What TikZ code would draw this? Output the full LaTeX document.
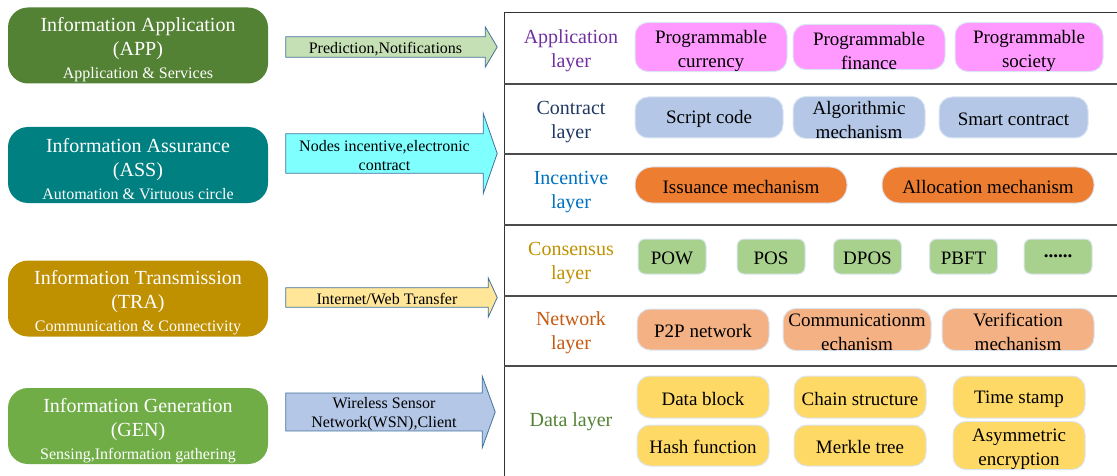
\documentclass[tikz,border=0pt]{standalone}
\usepackage{fontspec}
\setmainfont{Liberation Serif}
\usepackage{tikz}
\usetikzlibrary{positioning}
\pgfdeclarelayer{background}
\pgfsetlayers{background,main}
\definecolor{appgreen}{HTML}{548235}
\definecolor{assteal}{HTML}{008080}
\definecolor{tragold}{HTML}{BF9000}
\definecolor{gengreen}{HTML}{70AD47}
\definecolor{arrowedge}{HTML}{41719C}
\definecolor{appfill}{HTML}{C5E0B4}
\definecolor{assfill}{HTML}{80FFFF}
\definecolor{trafill}{HTML}{FFE699}
\definecolor{genfill}{HTML}{B4C7E7}
\definecolor{pinkbox}{HTML}{FF99FF}
\definecolor{bluebox}{HTML}{B4C7E7}
\definecolor{orangebox}{HTML}{ED7D31}
\definecolor{greenbox}{HTML}{A9D18E}
\definecolor{salmonbox}{HTML}{F4B183}
\definecolor{yellowbox}{HTML}{FFD966}
\definecolor{glow}{HTML}{DCE6F2}
\definecolor{txtpurple}{HTML}{7030A0}
\definecolor{txtnavy}{HTML}{203864}
\definecolor{txtblue}{HTML}{0070C0}
\definecolor{txtgold}{HTML}{BF9000}
\definecolor{txtrust}{HTML}{C55A11}
\definecolor{txtgreen}{HTML}{548235}
\tikzset{
	infobox/.style={rounded corners=20pt, minimum width=260pt, minimum height=76pt,
		inner sep=0pt, align=center, text=white, font=\fontsize{20}{24}\selectfont},
	arrowtext/.style={inner sep=0pt, align=center, font=\fontsize{16}{19}\selectfont},
	arrowshape/.style={draw=arrowedge, line width=0.8pt},
	layerlabel/.style={align=center, font=\fontsize{20}{24}\selectfont},
	item/.style={rounded corners=13pt, inner sep=0pt, align=center, draw=glow,
		line width=1pt, font=\fontsize{19}{24}\selectfont},
	pill/.style={item, rounded corners=17pt},
	chip/.style={item, rounded corners=7pt, minimum width=68pt, minimum height=35pt, fill=greenbox},
	panel/.style={draw=black!80, line width=1pt},
	separator/.style={draw=black!70, line width=1.6pt},
}
% invisible rule that pushes a node's text down a little
\newcommand{\topstrut}[1]{\rule{0pt}{#1}}
% block arrow round a text node: name, fill, head extend, head length
\newcommand{\blockarrow}[4]{%
	\begin{pgfonlayer}{background}
		\draw[arrowshape, fill=#2] (#1.south west) -- (#1.north west) -- (#1.north east)
		-- ([yshift=#3]#1.north east) -- ([xshift=#4]#1.east)
		-- ([yshift=-#3]#1.south east) -- (#1.south east) -- cycle;
	\end{pgfonlayer}}

\begin{document}
\begin{tikzpicture}[x=1pt,y=-1pt]
\useasboundingbox (0,0) rectangle (1117,476);

% left column
\node[infobox, fill=appgreen] (app) at (138,45.5) {\topstrut{23pt}Information Application\\(APP)\\[-1pt]{\fontsize{16}{20}\selectfont Application \& Services}};
\node[infobox, fill=assteal] (ass) at (138,165) {\topstrut{23pt}Information Assurance\\(ASS)\\[-1pt]{\fontsize{16}{20}\selectfont Automation \& Virtuous circle}};
\node[infobox, fill=tragold] (tra) at (138,298.5) {\topstrut{23pt}Information Transmission\\(TRA)\\[-1pt]{\fontsize{16}{20}\selectfont Communication \& Connectivity}};
\node[infobox, fill=gengreen] (gen) at (138,426) {\topstrut{23pt}Information Generation\\(GEN)\\[-1pt]{\fontsize{16}{20}\selectfont Sensing,Information gathering}};

% arrows
\node[arrowtext, minimum width=199pt, minimum height=20pt] (appArrow) at (385.5,47) {\topstrut{15pt}Prediction,Notifications};
\node[arrowtext, minimum width=197pt, minimum height=39pt] (assArrow) at (384.5,153.5) {\topstrut{15pt}Nodes incentive,electronic\\contract};
\node[arrowtext, minimum width=202pt, minimum height=19pt] (traArrow) at (387,297.5) {\topstrut{14pt}Internet/Web Transfer};
\node[arrowtext, minimum width=196pt, minimum height=34pt] (genArrow) at (384,412) {\topstrut{15pt}Wireless Sensor\\Network(WSN),Client};
\blockarrow{appArrow}{appfill}{10pt}{12pt}
\blockarrow{assArrow}{assfill}{20.5pt}{14pt}
\blockarrow{traArrow}{trafill}{10pt}{9pt}
\blockarrow{genArrow}{genfill}{17pt}{13pt}

% layer panel
\draw[panel] (1117,13) -- (504,13) -- (504,476);
\foreach \y in {84,154,225,296,366}
	\draw[separator] (504,\y) -- (1117,\y);

\node[layerlabel, text=txtpurple] (lApp) at (571,48.5) {\topstrut{18pt}Application\\layer};
\node[layerlabel, text=txtnavy] (lCon) at (571,119.5) {\topstrut{18pt}Contract\\layer};
\node[layerlabel, text=txtblue] (lInc) at (571,189.5) {\topstrut{18pt}Incentive\\layer};
\node[layerlabel, text=txtgold] (lCns) at (571,261) {\topstrut{18pt}Consensus\\layer};
\node[layerlabel, text=txtrust] (lNet) at (571,331) {\topstrut{18pt}Network\\layer};
\node[layerlabel, text=txtgreen] (lDat) at (571,419.5) {\topstrut{18pt}Data layer};

% application layer
\node[item, fill=pinkbox, minimum width=152pt, minimum height=42pt] (currency) at (711,47) {\topstrut{21pt}Programmable\\currency};
\node[item, fill=pinkbox, minimum width=152pt, minimum height=42pt] (finance) at (869,47) {\topstrut{21pt}Programmable\\finance};
\node[item, fill=pinkbox, minimum width=148pt, minimum height=41pt] (society) at (1029,47) {\topstrut{21pt}Programmable\\society};

% contract layer
\node[item, fill=bluebox, minimum width=148pt, minimum height=41pt] (script) at (709,117.5) {\topstrut{17pt}Script code};
\node[item, fill=bluebox, minimum width=132pt, minimum height=41pt] (algo) at (859,117.5) {\topstrut{18pt}Algorithmic\\mechanism};
\node[item, fill=bluebox, minimum width=149pt, minimum height=41pt] (smart) at (1013.5,117.5) {\topstrut{17pt}Smart contract};

% incentive layer
\node[pill, fill=orangebox, minimum width=212pt, minimum height=36pt] (issue) at (741,185) {\topstrut{17pt}Issuance mechanism};
\node[pill, fill=orangebox, minimum width=212pt, minimum height=36pt] (alloc) at (988,185) {\topstrut{17pt}Allocation mechanism};

% consensus layer
\node[chip] (pow) at (672,256.5) {\topstrut{15.5pt}POW};
\node[chip] (pos) at (771,256.5) {\topstrut{15.5pt}POS};
\node[chip] (dpos) at (867.5,256.5) {\topstrut{15.5pt}DPOS};
\node[chip] (pbft) at (963.5,256.5) {\topstrut{15.5pt}PBFT};
\node[chip] (more) at (1058,256.5) {\textbf{......}};

% network layer
\node[item, fill=salmonbox, minimum width=132pt, minimum height=41pt] (ptp) at (703,329.5) {\topstrut{17pt}P2P network};
\node[item, fill=salmonbox, minimum width=148pt, minimum height=41pt] (comm) at (857,329.5) {\topstrut{18pt}Communicationm\\echanism};
\node[item, fill=salmonbox, minimum width=152pt, minimum height=41pt] (verify) at (1018,329.5) {\topstrut{18pt}Verification\\mechanism};

% data layer
\node[item, fill=yellowbox, minimum width=132pt, minimum height=42pt] (block) at (703,397) {\topstrut{17pt}Data block};
\node[item, fill=yellowbox, minimum width=132pt, minimum height=42pt] (chain) at (860,397) {\topstrut{17pt}Chain structure};
\node[item, fill=yellowbox, minimum width=132pt, minimum height=42pt] (stamp) at (1019,397) {\topstrut{17pt}Time stamp};
\node[item, fill=yellowbox, minimum width=132pt, minimum height=41pt] (hash) at (703,445.5) {\topstrut{17pt}Hash function};
\node[item, fill=yellowbox, minimum width=132pt, minimum height=41pt] (merkle) at (860,445.5) {\topstrut{17pt}Merkle tree};
\node[item, fill=yellowbox, minimum width=132pt, minimum height=41pt] (asym) at (1019,445.5) {\topstrut{20pt}Asymmetric\\encryption};

\end{tikzpicture}
\end{document}
